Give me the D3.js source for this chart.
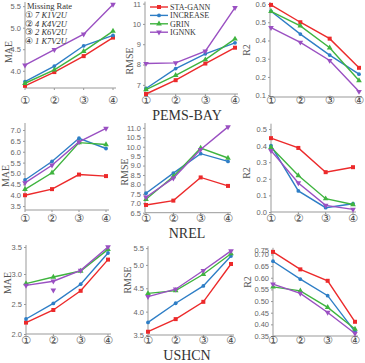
<!DOCTYPE html>
<html><head><meta charset="utf-8">
<script src="https://cdn.jsdelivr.net/npm/d3@7"></script>
<style>body{margin:0;background:#fff}svg{display:block}</style>
</head><body><svg id="c" width="365" height="363"></svg>
<script>
const datasets = ["PEMS-BAY", "NREL", "USHCN"];
const metrics = ["MAE", "RMSE", "R2"];
const methods = ["STA-GANN", "INCREASE", "GRIN", "IGNNK"];
const colors = ["#ec2a2b", "#2e7ec6", "#3fb43f", "#9a50c2"];
const xLabels = ["①", "②", "③", "④"];
const rateLabels = ["7 K1V2U", "4 K4V2U", "2 K6V2U", "1 K7V2U"];

// values: rows = methods (STA-GANN, INCREASE, GRIN, IGNNK), cols = missing rate ①..④
const pemsMae  = [[3.65,3.97,4.34,4.77],[3.75,4.11,4.58,4.82],[3.71,4.02,4.45,4.92],[4.13,4.49,4.85,5.54]];
const pemsRmse = [[6.55,7.23,8.05,8.83],[6.82,7.80,8.53,9.07],[6.77,7.47,8.24,9.26],[8.05,8.08,8.66,10.80]];
const pemsR2   = [[0.595,0.50,0.41,0.25],[0.56,0.435,0.32,0.215],[0.56,0.48,0.36,0.18],[0.47,0.39,0.29,0.12]];
const nrelMae  = [[4.00,4.28,4.95,4.88],[4.70,5.55,6.62,6.15],[4.27,5.03,6.42,6.33],[4.57,5.38,6.45,7.07]];
const nrelRmse = [[6.91,7.14,8.37,7.92],[7.53,8.60,9.63,9.22],[7.21,8.42,9.93,9.40],[7.32,8.33,9.85,11.05]];
const nrelR2   = [[0.445,0.386,0.24,0.27],[0.40,0.127,0.026,0.05],[0.39,0.22,0.08,0.045],[0.37,0.175,0.04,0.016]];
const ushcnMae  = [[2.19,2.40,2.72,3.24],[2.25,2.51,2.83,3.35],[2.84,2.95,3.05,3.41],[2.81,2.88,3.06,3.45]];
const ushcnRmse = [[3.57,3.84,4.21,5.02],[3.77,4.18,4.55,5.19],[4.39,4.45,4.80,5.24],[4.32,4.48,4.88,5.30]];
const ushcnR2   = [[0.711,0.636,0.587,0.411],[0.671,0.594,0.523,0.369],[0.561,0.544,0.473,0.380],[0.573,0.533,0.451,0.361]];
const ushcnMaeStray = [{method: 3, idx: 1, value: 2.73}];

const pemsMaeTicks = [4.0, 4.5, 5.0, 5.5];
const pemsRmseTicks = [7, 8, 9, 10, 11];
const pemsR2Ticks = [0.1, 0.2, 0.3, 0.4, 0.5, 0.6];
const nrelMaeTicks = [3.5, 4.0, 4.5, 5.0, 5.5, 6.0, 6.5, 7.0];
const nrelRmseTicks = [6.5, 7.0, 7.5, 8.0, 8.5, 9.0, 9.5, 10.0, 10.5, 11.0];
const nrelR2Ticks = [0.0, 0.1, 0.2, 0.3, 0.4, 0.5];
const ushcnMaeTicks = [2.0, 2.5, 3.0, 3.5];
const ushcnRmseTicks = [3.5, 4.0, 4.5, 5.0, 5.5];
const ushcnR2Ticks = [0.35, 0.40, 0.45, 0.50, 0.55, 0.60, 0.65, 0.70, 0.75];

// layout
const panels = [
  {data: pemsMae,  ticks: pemsMaeTicks,  fmt: ".1f", dom: [3.6, 5.55], yr: [88, 4],     xr: [25, 113],  ax: 25,  lab: [8, 52],   tlab: 100},
  {data: pemsRmse, ticks: pemsRmseTicks, fmt: "d",   dom: [6.55, 11],  yr: [94, 3.6],   xr: [146, 235], ax: 145, lab: [129, 61], tlab: 100},
  {data: pemsR2,   ticks: pemsR2Ticks,   fmt: ".1f", dom: [0.09, 0.6], yr: [97, 4],     xr: [271, 359], ax: 270, lab: [246, 50], tlab: 100},
  {data: nrelMae,  ticks: nrelMaeTicks,  fmt: ".1f", dom: [3.32, 7.23],yr: [210, 125],  xr: [25, 106],  ax: 25,  lab: [5, 176],  tlab: 218},
  {data: nrelRmse, ticks: nrelRmseTicks, fmt: ".1f", dom: [6.5, 11.15],yr: [212.7, 125],xr: [146, 228], ax: 145, lab: [124, 172],tlab: 218},
  {data: nrelR2,   ticks: nrelR2Ticks,   fmt: ".1f", dom: [0, 0.52],   yr: [212, 125.7],xr: [271, 353], ax: 271, lab: [246, 173],tlab: 218},
  {data: ushcnMae, ticks: ushcnMaeTicks, fmt: ".1f", dom: [2.0, 3.45], yr: [334, 247],  xr: [26, 108],  ax: 26,  lab: [7, 283],  tlab: 340, stray: ushcnMaeStray},
  {data: ushcnRmse,ticks: ushcnRmseTicks,fmt: ".1f", dom: [3.5, 5.36], yr: [335, 248.1],xr: [148, 231], ax: 148, lab: [127, 280],tlab: 340},
  {data: ushcnR2,  ticks: ushcnR2Ticks,  fmt: ".2f", dom: [0.35, 0.72],yr: [336, 249.8],xr: [273, 355], ax: 273, lab: [247, 282],tlab: 340}
];
const titlePos = [[187, 120], [187, 238], [187, 360]];

const svg = d3.select("#c");
const serif = "'Liberation Serif','Times New Roman',serif";
const sans = "'Liberation Sans',Arial,sans-serif";
const sym = "'DejaVu Sans',sans-serif";
const axisCol = "#999";

function marker(g, m, x, y) {
  const c = colors[m];
  if (m === 0) g.append("rect").attr("x", x - 2).attr("y", y - 2).attr("width", 4).attr("height", 4).attr("fill", c);
  else if (m === 1) g.append("circle").attr("cx", x).attr("cy", y).attr("r", 1.9).attr("fill", c);
  else if (m === 2) g.append("path").attr("d", d3.symbol(d3.symbolTriangle, 14)()).attr("transform", `translate(${x},${y})`).attr("fill", c);
  else g.append("path").attr("d", d3.symbol(d3.symbolTriangle, 14)()).attr("transform", `translate(${x},${y}) rotate(180)`).attr("fill", c);
}

panels.forEach((p, i) => {
  const g = svg.append("g");
  const x = d3.scalePoint().domain(d3.range(4)).range(p.xr);
  const y = d3.scaleLinear().domain(p.dom).range(p.yr).clamp(true);
  // y axis
  const ya = g.append("g").attr("transform", `translate(${p.ax},0)`)
    .call(d3.axisLeft(y).tickValues(p.ticks).tickFormat(d3.format(p.fmt)).tickSize(2).tickPadding(2));
  ya.select(".domain").attr("stroke", axisCol).attr("d", `M0,${p.yr[0]}V${p.yr[1] - 2}`);
  ya.selectAll(".tick line").attr("stroke", axisCol);
  ya.selectAll(".tick text").attr("font-family", sans).attr("font-size", 7.5).attr("fill", "#666");
  // x axis line
  g.append("line").attr("x1", p.ax).attr("x2", p.xr[1] + 3).attr("y1", p.yr[0]).attr("y2", p.yr[0]).attr("stroke", axisCol);
  xLabels.forEach((t, k) => {
    g.append("line").attr("x1", x(k)).attr("x2", x(k)).attr("y1", p.yr[0]).attr("y2", p.yr[0] + 2).attr("stroke", axisCol);
    g.append("text").attr("x", x(k)).attr("y", p.tlab + 4).attr("text-anchor", "middle")
      .attr("font-family", sym).attr("font-size", 11).attr("fill", "#444").text(t);
  });
  // y label
  g.append("text").attr("transform", `translate(${p.lab[0] + 3.5},${p.lab[1]}) rotate(-90)`).attr("text-anchor", "middle")
    .attr("font-family", serif).attr("font-size", 10).attr("fill", "#555").text(metrics[i % 3]);
  // series
  const line = d3.line().x((d, k) => x(k)).y(d => y(d));
  p.data.forEach((vals, m) => {
    g.append("path").attr("d", line(vals)).attr("fill", "none").attr("stroke", colors[m]).attr("stroke-width", 1.4);
    vals.forEach((v, k) => marker(g, m, x(k), y(v)));
  });
  if (p.stray) p.stray.forEach(s => marker(g, s.method, x(s.idx), y(s.value)));
});

datasets.forEach((d, i) => {
  svg.append("text").attr("x", titlePos[i][0]).attr("y", titlePos[i][1]).attr("text-anchor", "middle")
    .attr("font-family", serif).attr("font-size", 14).attr("fill", "#333").text(d);
});

// missing-rate legend
const lg1 = svg.append("g");
lg1.append("text").attr("x", 27).attr("y", 8.5).attr("font-family", serif).attr("font-size", 8.5).attr("fill", "#333").text("Missing Rate");
rateLabels.forEach((t, k) => {
  const yy = 18 + k * 8.7;
  lg1.append("text").attr("x", 25).attr("y", yy).attr("font-family", sym).attr("font-size", 9).attr("fill", "#333").text(xLabels[k]);
  lg1.append("text").attr("x", 35).attr("y", yy).attr("font-family", serif).attr("font-style", "italic").attr("font-size", 8.5).attr("fill", "#333").text(t);
});

// method legend
const lg2 = svg.append("g");
methods.forEach((t, m) => {
  const yy = 7 + m * 8.4;
  lg2.append("line").attr("x1", 150).attr("x2", 168).attr("y1", yy).attr("y2", yy).attr("stroke", colors[m]).attr("stroke-width", 1.4);
  marker(lg2, m, 159, yy);
  lg2.append("text").attr("x", 170).attr("y", yy + 2.8).attr("font-family", serif).attr("font-size", 8).attr("fill", "#333").text(t);
});
</script></body></html>
